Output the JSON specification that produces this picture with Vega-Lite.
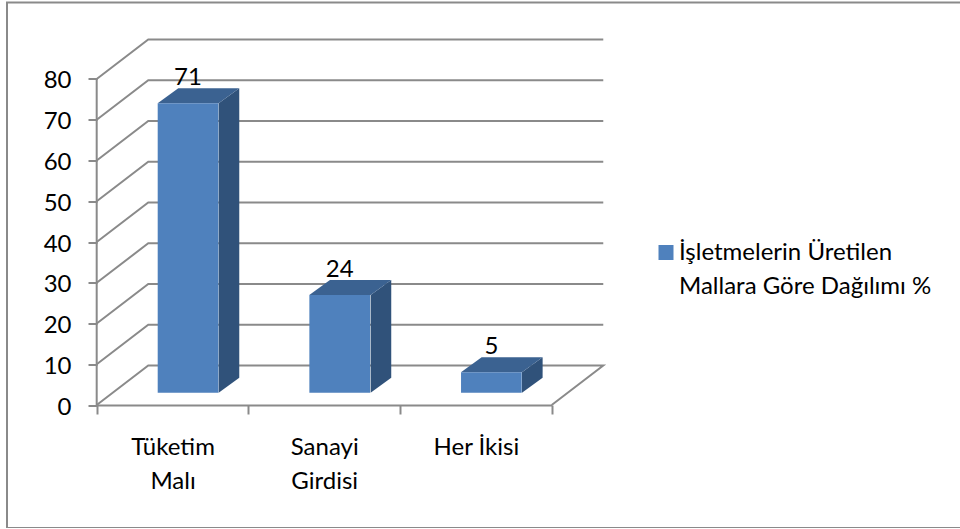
{
"$schema":"https://vega.github.io/schema/vega-lite/v6.json",
"autosize":"none","width":953,"height":525.5,
"padding":{"left":7,"top":2.5,"right":0,"bottom":0},
"background":"white",
"config":{"view":{"stroke":null},"font":"Lato","style":{"guide-label":{"lineHeight":34}}},
"resolve":{"scale":{"x":"independent"},"axis":{"x":"independent"}},
"layer":[
{"layer":[
{"data":{"values":[
{"cizgi":"cerceve","sira":0,"x":5.692,"y":98.77},{"cizgi":"cerceve","sira":1,"x":-0.5914,"y":98.77},{"cizgi":"cerceve","sira":2,"x":-0.5914,"y":-30.18},{"cizgi":"cerceve","sira":3,"x":5.692,"y":-30.18},
{"cizgi":"eksen","sira":0,"x":0,"y":0},{"cizgi":"eksen","sira":1,"x":0,"y":80},
{"cizgi":"0","sira":0,"x":0,"y":0},{"cizgi":"0","sira":1,"x":0.34,"y":9.69},{"cizgi":"0","sira":2,"x":3.34,"y":9.69},{"cizgi":"0","sira":3,"x":3,"y":0},
{"cizgi":"10","sira":0,"x":0,"y":10},{"cizgi":"10","sira":1,"x":0.34,"y":19.69},{"cizgi":"10","sira":2,"x":3.34,"y":19.69},
{"cizgi":"20","sira":0,"x":0,"y":20},{"cizgi":"20","sira":1,"x":0.34,"y":29.69},{"cizgi":"20","sira":2,"x":3.34,"y":29.69},
{"cizgi":"30","sira":0,"x":0,"y":30},{"cizgi":"30","sira":1,"x":0.34,"y":39.69},{"cizgi":"30","sira":2,"x":3.34,"y":39.69},
{"cizgi":"40","sira":0,"x":0,"y":40},{"cizgi":"40","sira":1,"x":0.34,"y":49.69},{"cizgi":"40","sira":2,"x":3.34,"y":49.69},
{"cizgi":"50","sira":0,"x":0,"y":50},{"cizgi":"50","sira":1,"x":0.34,"y":59.69},{"cizgi":"50","sira":2,"x":3.34,"y":59.69},
{"cizgi":"60","sira":0,"x":0,"y":60},{"cizgi":"60","sira":1,"x":0.34,"y":69.69},{"cizgi":"60","sira":2,"x":3.34,"y":69.69},
{"cizgi":"70","sira":0,"x":0,"y":70},{"cizgi":"70","sira":1,"x":0.34,"y":79.69},{"cizgi":"70","sira":2,"x":3.34,"y":79.69},
{"cizgi":"80","sira":0,"x":0,"y":80},{"cizgi":"80","sira":1,"x":0.34,"y":89.69},{"cizgi":"80","sira":2,"x":3.34,"y":89.69}
]},
"mark":{"type":"line","color":"#8a8a8a","strokeWidth":2,"clip":false,"strokeJoin":"miter"},
"encoding":{
"x":{"field":"x","type":"quantitative","scale":{"domain":[-0.5914,5.692],"nice":false,"zero":false},"axis":null},
"y":{"field":"y","type":"quantitative","scale":{"domain":[-30.18,98.77],"nice":false,"zero":false},
"axis":{"title":null,"orient":"left","offset":-90,"values":[0,10,20,30,40,50,60,70,80],"domain":false,"grid":false,"labelFontSize":24,"labelColor":"#000000","labelPadding":17,"labelOffset":2,"tickColor":"#8a8a8a","tickWidth":2,"tickSize":9}},
"detail":{"field":"cizgi"},"order":{"field":"sira"}}},
{"data":{"values":[
{"kategori":"Tüketim Malı","x":0.804,"ust":74.02,"alt":3.02},{"kategori":"Tüketim Malı","x":0.94,"ust":77.7,"alt":6.7},
{"kategori":"Sanayi Girdisi","x":1.806,"ust":27.02,"alt":3.02},{"kategori":"Sanayi Girdisi","x":1.942,"ust":30.7,"alt":6.7},
{"kategori":"Her İkisi","x":2.804,"ust":8.02,"alt":3.02},{"kategori":"Her İkisi","x":2.94,"ust":11.7,"alt":6.7}
]},
"mark":{"type":"area","color":"#30527a","opacity":1},
"encoding":{
"x":{"field":"x","type":"quantitative","scale":{"domain":[-0.5914,5.692],"nice":false,"zero":false},"axis":null},
"y":{"field":"ust","type":"quantitative","scale":{"domain":[-30.18,98.77],"nice":false,"zero":false}},
"y2":{"field":"alt"},"detail":{"field":"kategori"}}},
{"data":{"values":[
{"kategori":"Tüketim Malı","x":0.402,"ust":74.02,"alt":74.02},{"kategori":"Tüketim Malı","x":0.538,"ust":77.7,"alt":74.02},{"kategori":"Tüketim Malı","x":0.804,"ust":77.7,"alt":74.02},{"kategori":"Tüketim Malı","x":0.94,"ust":77.7,"alt":77.7},
{"kategori":"Sanayi Girdisi","x":1.402,"ust":27.02,"alt":27.02},{"kategori":"Sanayi Girdisi","x":1.538,"ust":30.7,"alt":27.02},{"kategori":"Sanayi Girdisi","x":1.806,"ust":30.7,"alt":27.02},{"kategori":"Sanayi Girdisi","x":1.942,"ust":30.7,"alt":30.7},
{"kategori":"Her İkisi","x":2.402,"ust":8.02,"alt":8.02},{"kategori":"Her İkisi","x":2.538,"ust":11.7,"alt":8.02},{"kategori":"Her İkisi","x":2.804,"ust":11.7,"alt":8.02},{"kategori":"Her İkisi","x":2.94,"ust":11.7,"alt":11.7}
]},
"mark":{"type":"area","color":"#3b6291","opacity":1},
"encoding":{
"x":{"field":"x","type":"quantitative","scale":{"domain":[-0.5914,5.692],"nice":false,"zero":false},"axis":null},
"y":{"field":"ust","type":"quantitative","scale":{"domain":[-30.18,98.77],"nice":false,"zero":false}},
"y2":{"field":"alt"},"detail":{"field":"kategori"}}}
]},
{"data":{"values":[
{"kategori":"Tüketim Malı","deger":71,"seri":"İşletmelerin Üretilen Mallara Göre Dağılımı %"},
{"kategori":"Sanayi Girdisi","deger":24,"seri":"İşletmelerin Üretilen Mallara Göre Dağılımı %"},
{"kategori":"Her İkisi","deger":5,"seri":"İşletmelerin Üretilen Mallara Göre Dağılımı %"}
]},
"encoding":{
"x":{"field":"kategori","type":"nominal","sort":null,
"scale":{"range":[89.7,544.7],"paddingInner":0,"paddingOuter":0},
"axis":{"title":null,"orient":"bottom","offset":-123,"tickBand":"extent","labelAngle":0,"labelFontSize":24,"labelColor":"#000000","labelPadding":21,"labelLineHeight":34,"domainColor":"#8a8a8a","domainWidth":2,"tickColor":"#8a8a8a","tickWidth":2,"tickSize":9,"labelExpr":"datum.label=='Her İkisi'?datum.label:split(datum.label,' ')"}},
"y":{"field":"deger","type":"quantitative","scale":{"domain":[-30.18,98.77],"nice":false,"zero":false}}},
"layer":[
{"mark":{"type":"bar","width":{"band":0.4},"xOffset":15.5,"x2Offset":15.5,"yOffset":-12.3,"y2Offset":-12.3,"clip":false},
"encoding":{
"y2":{"datum":0},
"color":{"field":"seri","type":"nominal","scale":{"range":["#4f81bd"]},
"legend":{"title":null,"orient":"none","legendX":647,"legendY":238,"symbolType":"square","symbolSize":225,"symbolStrokeWidth":0,"labelFontSize":24,"labelColor":"#000000","labelOffset":1,"labelLimit":400,"labelExpr":"['İşletmelerin Üretilen','Mallara Göre Dağılımı %']"}}}},
{"mark":{"type":"text","xOffset":15.5,"yOffset":-30.7,"baseline":"alphabetic","align":"center","fontSize":24,"color":"#000000"},
"encoding":{"text":{"field":"deger","type":"quantitative"}}}
]}
]
}
